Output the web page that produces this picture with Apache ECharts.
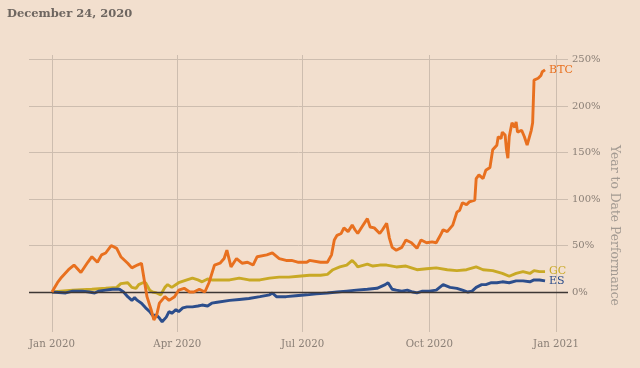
<!DOCTYPE html>
<html>
<head>
<meta charset="utf-8">
<script src="https://cdn.jsdelivr.net/npm/echarts@6/dist/echarts.min.js"></script>
<style>
html,body{margin:0;padding:0;background:#f2dfce;}
#chart{width:640px;height:368px;}
</style>
</head>
<body>
<div id="chart"></div>
<script>
const titleText = 'December 24, 2020';
const yAxisTitle = 'Year to Date Performance';
const xTickDates = ['2020-01-01','2020-04-01','2020-07-01','2020-10-01','2021-01-01'];
const xTickLabels = ['Jan 2020','Apr 2020','Jul 2020','Oct 2020','Jan 2021'];
const yTickValues = [0,50,100,150,200,250];
const yTickLabels = ['0%','50%','100%','150%','200%','250%'];

const btcDates = ['2020-01-01','2020-01-05','2020-01-08','2020-01-13','2020-01-17','2020-01-22','2020-01-27','2020-01-30','2020-02-03','2020-02-06','2020-02-09','2020-02-13','2020-02-17','2020-02-20','2020-02-25','2020-02-28','2020-03-03','2020-03-06','2020-03-08','2020-03-10','2020-03-13','2020-03-15','2020-03-17','2020-03-19','2020-03-23','2020-03-26','2020-03-30','2020-04-02','2020-04-06','2020-04-10','2020-04-13','2020-04-17','2020-04-21','2020-04-24','2020-04-28','2020-05-02','2020-05-05','2020-05-07','2020-05-10','2020-05-14','2020-05-18','2020-05-22','2020-05-26','2020-05-29','2020-06-05','2020-06-09','2020-06-14','2020-06-19','2020-06-23','2020-06-28','2020-07-04','2020-07-06','2020-07-14','2020-07-19','2020-07-22','2020-07-24','2020-07-26','2020-07-29','2020-07-31','2020-08-03','2020-08-06','2020-08-08','2020-08-10','2020-08-13','2020-08-17','2020-08-19','2020-08-22','2020-08-26','2020-08-28','2020-08-31','2020-09-02','2020-09-04','2020-09-07','2020-09-11','2020-09-14','2020-09-18','2020-09-22','2020-09-25','2020-09-29','2020-10-03','2020-10-06','2020-10-09','2020-10-11','2020-10-14','2020-10-18','2020-10-21','2020-10-23','2020-10-25','2020-10-28','2020-10-30','2020-11-03','2020-11-04','2020-11-06','2020-11-09','2020-11-11','2020-11-14','2020-11-16','2020-11-19','2020-11-20','2020-11-22','2020-11-23','2020-11-25','2020-11-26','2020-11-27','2020-11-28','2020-11-30','2020-12-02','2020-12-03','2020-12-04','2020-12-07','2020-12-09','2020-12-11','2020-12-14','2020-12-15','2020-12-16','2020-12-19','2020-12-21','2020-12-22','2020-12-24'];
const btcValues = [0,10,16,24,29,21,32,38,32,40,42,50,47,38,31,26,29,31,13,-5,-19,-30,-25,-12,-5,-9,-5,2,4,0,0,3,0,10,29,31,36,45,27,36,31,32,29,38,40,42,36,34,34,32,32,34,32,32,40,56,61,63,69,65,72,67,63,70,79,70,69,63,67,74,58,48,45,48,56,53,47,56,53,54,53,61,67,65,72,86,88,96,94,97,99,122,126,122,131,134,153,158,167,165,172,169,153,144,167,182,177,183,172,174,167,158,174,182,228,230,233,237,239];

const gcDates = ['2020-01-01','2020-01-16','2020-01-30','2020-02-09','2020-02-17','2020-02-20','2020-02-25','2020-02-28','2020-03-02','2020-03-04','2020-03-07','2020-03-09','2020-03-12','2020-03-14','2020-03-17','2020-03-20','2020-03-23','2020-03-25','2020-03-28','2020-04-02','2020-04-08','2020-04-12','2020-04-16','2020-04-19','2020-04-23','2020-04-26','2020-05-02','2020-05-09','2020-05-16','2020-05-23','2020-05-31','2020-06-07','2020-06-14','2020-06-21','2020-06-28','2020-07-06','2020-07-14','2020-07-19','2020-07-23','2020-07-28','2020-08-02','2020-08-06','2020-08-08','2020-08-10','2020-08-17','2020-08-21','2020-08-26','2020-08-31','2020-09-07','2020-09-14','2020-09-22','2020-09-29','2020-10-06','2020-10-14','2020-10-21','2020-10-28','2020-11-04','2020-11-09','2020-11-16','2020-11-23','2020-11-28','2020-12-03','2020-12-08','2020-12-13','2020-12-16','2020-12-20','2020-12-24'];
const gcValues = [0,2,3,4,5,9,10,5,4,8,10,10,2,0,-1,-3,5,8,5,10,13,15,13,11,14,13,13,13,15,13,13,15,16,16,17,18,18,19,24,27,29,34,31,27,30,28,29,29,27,28,24,25,26,24,23,24,27,24,23,20,17,20,22,20,23,22,22];

const esDates = ['2020-01-01','2020-01-11','2020-01-16','2020-01-23','2020-01-28','2020-02-01','2020-02-04','2020-02-09','2020-02-14','2020-02-19','2020-02-22','2020-02-25','2020-02-28','2020-03-01','2020-03-03','2020-03-06','2020-03-09','2020-03-12','2020-03-14','2020-03-17','2020-03-19','2020-03-21','2020-03-24','2020-03-26','2020-03-28','2020-03-31','2020-04-02','2020-04-05','2020-04-08','2020-04-12','2020-04-16','2020-04-19','2020-04-23','2020-04-26','2020-04-30','2020-05-09','2020-05-16','2020-05-23','2020-05-31','2020-06-07','2020-06-09','2020-06-12','2020-06-19','2020-06-26','2020-07-04','2020-07-11','2020-07-19','2020-07-26','2020-08-02','2020-08-09','2020-08-17','2020-08-24','2020-08-30','2020-09-01','2020-09-04','2020-09-07','2020-09-11','2020-09-15','2020-09-19','2020-09-22','2020-09-26','2020-10-01','2020-10-06','2020-10-11','2020-10-16','2020-10-21','2020-10-25','2020-10-29','2020-11-01','2020-11-04','2020-11-08','2020-11-11','2020-11-15','2020-11-19','2020-11-23','2020-11-28','2020-12-03','2020-12-08','2020-12-13','2020-12-16','2020-12-20','2020-12-24'];
const esValues = [0,-1,1,1,0,-1,1,2,3,3,0,-5,-9,-6,-9,-12,-17,-21,-25,-25,-28,-32,-27,-21,-23,-19,-21,-17,-16,-16,-15,-14,-15,-12,-11,-9,-8,-7,-5,-3,-1,-5,-5,-4,-3,-2,-1,0,1,2,3,4,8,10,3,2,1,2,0,-1,1,1,2,8,5,4,2,0,1,5,8,8,10,10,11,10,12,12,11,13,13,12];

const seriesNames = ['BTC','GC','ES'];
const seriesColors = ['#e8701f','#c9a925','#2c4e8c'];

function parseD(s){ const p=s.split('-').map(Number); return Date.UTC(p[0],p[1]-1,p[2]); }
function pairs(d,v){ return d.map((x,i)=>[parseD(x),v[i]]); }
const xTickTimes = xTickDates.map(parseD);

const chart = echarts.init(document.getElementById('chart'), null, {renderer:'canvas'});
const serif = '"DejaVu Serif", "Liberation Serif", serif';
const labelColor = '#8a7f76';

function lineSeries(name, data, color, z, extra){
  return Object.assign({
    name: name, type: 'line', data: data, showSymbol: false, symbol: 'none',
    lineStyle: {color: color, width: 2.9}, itemStyle:{color: color}, z: z,
    silent: true, animation: false,
    endLabel: {show: true, formatter: name, color: color, fontFamily: serif, fontSize: 11, distance: 4}
  }, extra||{});
}

chart.setOption({
  backgroundColor: '#f2dfce',
  animation: false,
  title: {text: titleText, left: 2, top: 3, textStyle: {fontFamily: serif, fontWeight: 'bold', fontSize: 11.5, color: '#6e6660'}},
  grid: {left: 29, right: 72, top: 55, bottom: 36, containLabel: false},
  xAxis: {
    type: 'value',
    min: Date.UTC(2019,11,15,8),
    max: Date.UTC(2021,0,9,16),
    axisLine: {show: false},
    axisTick: {show: false, customValues: xTickTimes},
    axisLabel: {customValues: xTickTimes, margin: 7, color: labelColor, fontFamily: serif, fontSize: 10.2,
      formatter: function(v){ const i = xTickTimes.indexOf(v); return i>=0 ? xTickLabels[i] : ''; }},
    splitLine: {show: true, lineStyle: {color: '#cdbdaf', width: 1}}
  },
  yAxis: {
    type: 'value', position: 'right', min: -43, max: 255,
    axisLine: {show: false},
    axisTick: {show: false, customValues: yTickValues},
    axisLabel: {customValues: yTickValues, margin: 4, color: labelColor, fontFamily: serif, fontSize: 10,
      formatter: function(v){ const i = yTickValues.indexOf(v); return i>=0 ? yTickLabels[i] : ''; }},
    splitLine: {show: true, lineStyle: {color: '#cdbdaf', width: 1}}
  },
  graphic: [{
    type: 'text', left: 608, top: 145, rotation: -Math.PI/2,
    style: {text: yAxisTitle, fill: '#a39a92', font: '12.3px ' + serif}
  }],
  series: [
    lineSeries(seriesNames[1], pairs(gcDates, gcValues), seriesColors[1], 3, {
      markLine: {silent: true, symbol: 'none', label: {show:false}, animation:false,
        lineStyle: {color: '#3d3735', width: 1.3, type: 'solid'}, data: [{yAxis: 0}]}
    }),
    lineSeries(seriesNames[2], pairs(esDates, esValues), seriesColors[2], 4),
    lineSeries(seriesNames[0], pairs(btcDates, btcValues), seriesColors[0], 5)
  ]
});
</script>
</body>
</html>
